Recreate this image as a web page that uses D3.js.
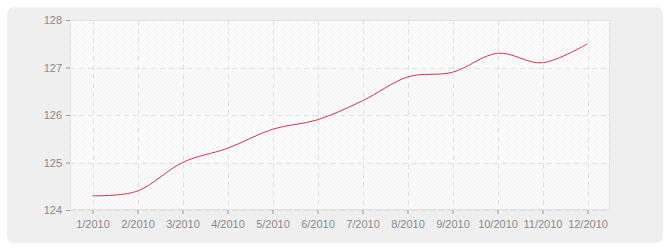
<!DOCTYPE html>
<html><head><meta charset="utf-8">
<script src="https://cdn.jsdelivr.net/npm/d3@7"></script>
<style>body{margin:0;background:#fff}svg{display:block}text{font-family:"Liberation Sans",Arial,sans-serif}</style>
</head><body>
<svg id="c" width="670" height="250"></svg>
<script>
const categories = ["1/2010","2/2010","3/2010","4/2010","5/2010","6/2010","7/2010","8/2010","9/2010","10/2010","11/2010","12/2010"];
const values = [124.3,124.4,125.0,125.3,125.7,125.9,126.3,126.8,126.9,127.3,127.1,127.5];
const yTicks = [124,125,126,127,128];

const svg = d3.select("#c");
const defs = svg.append("defs");
const p1 = defs.append("pattern").attr("id","h1").attr("patternUnits","userSpaceOnUse").attr("width",4).attr("height",4);
p1.append("rect").attr("width",4).attr("height",4).attr("fill","#ffffff");
p1.append("path").attr("d","M-1,1 l2,-2 M0,4 l4,-4 M3,5 l2,-2").attr("stroke","#f0f0f0").attr("stroke-width",1);
const p2 = defs.append("pattern").attr("id","h2").attr("patternUnits","userSpaceOnUse").attr("width",4).attr("height",4);
p2.append("rect").attr("width",4).attr("height",4).attr("fill","#fafafa");
p2.append("path").attr("d","M-1,1 l2,-2 M0,4 l4,-4 M3,5 l2,-2").attr("stroke","#f5f5f5").attr("stroke-width",1);

svg.append("rect").attr("x",7).attr("y",7).attr("width",656).attr("height",236).attr("rx",7).attr("fill","#efefef");

const L=70,R=610,T=20,B=210;
const x = d3.scalePoint().domain(categories).range([L,R]).padding(0.5);
const y = d3.scaleLinear().domain([124,128]).range([B,T]);

// bands
for(let i=0;i<yTicks.length-1;i++){
  const lo=yTicks[i], hi=yTicks[i+1];
  svg.append("rect").attr("x",L).attr("y",y(hi)).attr("width",R-L).attr("height",y(lo)-y(hi))
    .attr("fill", i%2===0 ? "url(#h2)" : "url(#h1)");
}
svg.append("rect").attr("x",L+0.5).attr("y",T+0.5).attr("width",R-L-1).attr("height",B-T-1).attr("fill","none").attr("stroke","#e2e2e2");

// grid
const g = svg.append("g").attr("stroke","#e0e0e0").attr("stroke-dasharray","5,4").attr("stroke-width",1);
categories.forEach(c=>g.append("line").attr("x1",Math.round(x(c))+0.5).attr("x2",Math.round(x(c))+0.5).attr("y1",T).attr("y2",B));
yTicks.forEach(t=>g.append("line").attr("x1",L).attr("x2",R).attr("y1",Math.round(y(t))+0.5).attr("y2",Math.round(y(t))+0.5));

// axes
const ya = svg.append("g").attr("transform",`translate(${L},0)`)
  .call(d3.axisLeft(y).tickValues(yTicks).tickSize(4).tickPadding(4).tickFormat(d3.format("d")));
const xa = svg.append("g").attr("transform",`translate(0,${B})`)
  .call(d3.axisBottom(x).tickSize(4).tickPadding(6));
[ya,xa].forEach(a=>{
  a.select(".domain").remove();
  a.selectAll(".tick line").attr("stroke","#999");
  a.selectAll(".tick text").attr("fill","#8a8a8a").style("font-size","11px").style("font-family","'Liberation Sans',Arial,sans-serif");
});

// line
const line = d3.line().x((d,i)=>x(categories[i])).y(d=>y(d)).curve(d3.curveCardinal.tension(0));
svg.append("path").datum(values).attr("d",line).attr("fill","none").attr("stroke","#d8334a").attr("stroke-width",1);
</script>
</body></html>
